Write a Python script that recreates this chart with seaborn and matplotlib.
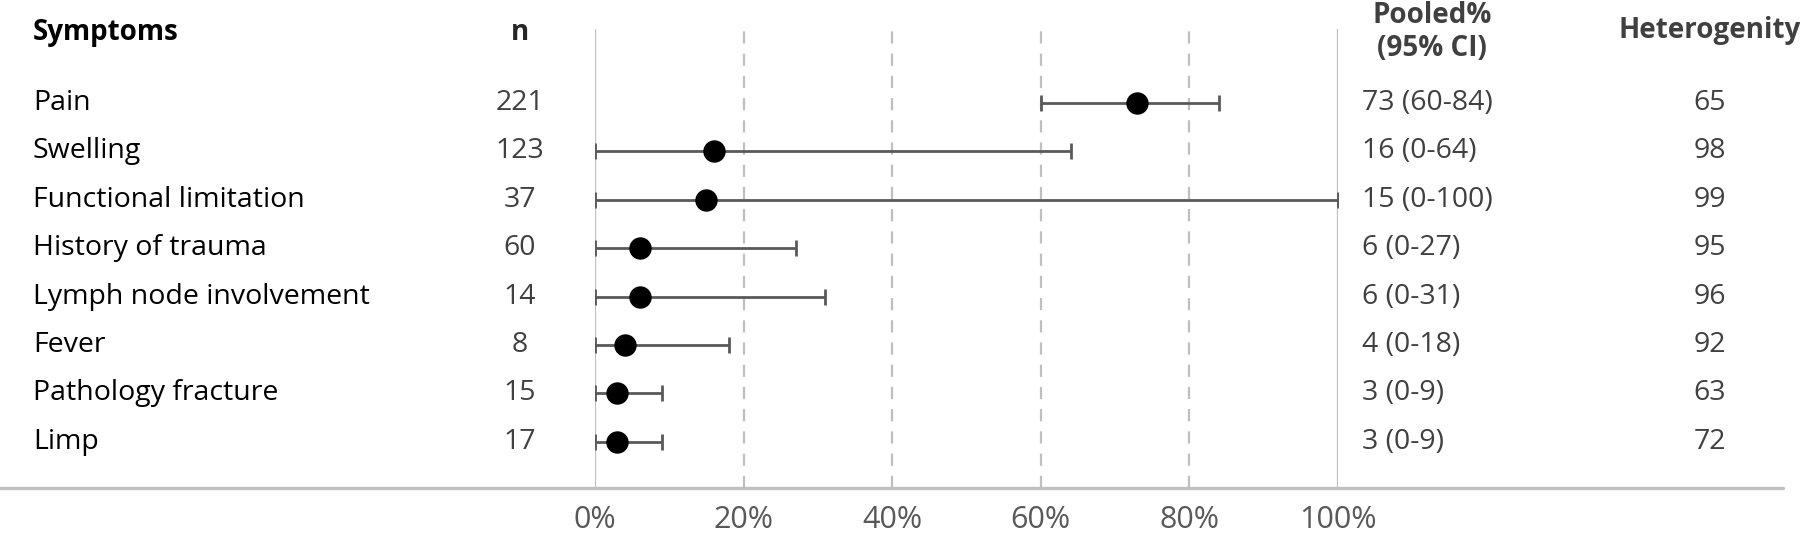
import matplotlib
matplotlib.use("Agg")
import matplotlib.pyplot as plt
import seaborn as sns
import pandas as pd

symptoms = ["Pain", "Swelling", "Functional limitation", "History of trauma",
            "Lymph node involvement", "Fever", "Pathology fracture", "Limp"]
n_cases = [221, 123, 37, 60, 14, 8, 15, 17]
pooled = [73, 16, 15, 6, 6, 4, 3, 3]
ci_low = [60, 0, 0, 0, 0, 0, 0, 0]
ci_high = [84, 64, 100, 27, 31, 18, 9, 9]
heterogeneity = [65, 98, 99, 95, 96, 92, 63, 72]
xticks = [0, 20, 40, 60, 80, 100]

df = pd.DataFrame({"symptom": symptoms, "n": n_cases, "pooled": pooled,
                   "lo": ci_low, "hi": ci_high, "het": heterogeneity})
df["row"] = range(len(df))

sns.set_style("white")
plt.rcParams["font.family"] = ["Open Sans", "DejaVu Sans"]
FS = 20.5
FS_HEAD = 20

fig = plt.figure(figsize=(18, 5.43), dpi=100)
# forest panel: 0% at x=595px, 100% at 1338px; top 29px, bottom 488px
ax = fig.add_axes([595 / 1800, 55 / 543, 743 / 1800, 459 / 543])

# reference lines
for x in xticks:
    if x in (0, 100):
        ax.axvline(x, color="#bfbfbf", lw=1.6, zorder=0)
    else:
        ax.axvline(x, color="#bfbfbf", lw=1.6, ls=(0, (5.5, 4.5)), zorder=0)

# confidence intervals
ax.errorbar(df["pooled"], df["row"],
            xerr=[df["pooled"] - df["lo"], df["hi"] - df["pooled"]],
            fmt="none", ecolor="#595959", elinewidth=2.0, capsize=6,
            capthick=2.0, zorder=2)
sns.scatterplot(data=df, x="pooled", y="row", ax=ax, color="black",
                s=260, edgecolor="black", linewidth=0, zorder=3, legend=False)

ax.set_xlim(0, 100)
ax.set_ylim(7.955, -1.529)
ax.set_xticks(xticks)
ax.set_xticklabels([f"{t}%" for t in xticks], fontsize=22, color="#595959")
ax.tick_params(axis="x", length=0, pad=12)
ax.set_yticks([])
ax.set_xlabel("")
ax.set_ylabel("")
for s in ax.spines.values():
    s.set_visible(False)

# bottom rule across the whole width
ax.axhline(7.955, xmin=-0.801, xmax=1.599, color="#bfbfbf", lw=2.4, clip_on=False)

# table columns (data x: (px-595)/743*100)
x_sym = (33 - 595) / 7.43
x_n = (520 - 595) / 7.43
x_pool = (1362 - 595) / 7.43
x_het = (1710 - 595) / 7.43

for _, r in df.iterrows():
    ax.text(x_sym, r["row"], r["symptom"], ha="left", va="center",
            fontsize=FS, color="black", clip_on=False)
    ax.text(x_n, r["row"], str(r["n"]), ha="center", va="center",
            fontsize=FS, color="#404040", clip_on=False)
    ax.text(x_pool, r["row"], f"{r['pooled']} ({r['lo']}-{r['hi']})",
            ha="left", va="center", fontsize=FS, color="#404040", clip_on=False)
    ax.text(x_het, r["row"], str(r["het"]), ha="center", va="center",
            fontsize=FS, color="#404040", clip_on=False)

y_head = (32 - 103) / 48.4
ax.text(x_sym, y_head, "Symptoms", ha="left", va="center", fontsize=FS_HEAD,
        fontweight="bold", color="black", clip_on=False)
ax.text(x_n, y_head, "n", ha="center", va="center", fontsize=FS_HEAD,
        fontweight="bold", color="#262626", clip_on=False)
ax.text((1432 - 595) / 7.43, (32 - 103) / 48.4, "Pooled%\n(95% CI)",
        ha="center", va="center", multialignment="center", linespacing=1.2,
        fontsize=FS_HEAD, fontweight="bold", color="#404040", clip_on=False)
ax.text(x_het, (30 - 103) / 48.4, "Heterogenity", ha="center", va="center",
        fontsize=FS_HEAD, fontweight="bold", color="#404040", clip_on=False)

fig.savefig("out.png", dpi=100)
